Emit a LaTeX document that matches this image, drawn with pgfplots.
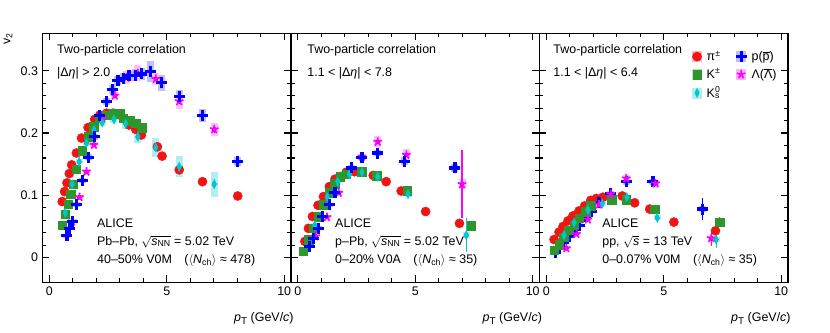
\documentclass[border=0pt]{standalone}
\usepackage{pgfplots}
\pgfplotsset{compat=1.18}
\usepackage{pgfplotstable}
\usepackage{fontspec}
\setmainfont{Liberation Sans}

\definecolor{pired}{RGB}{240,20,20}
\definecolor{kgreen}{RGB}{45,150,45}
\definecolor{kscyan}{RGB}{0,200,205}
\definecolor{pblue}{RGB}{0,0,255}
\definecolor{lmag}{RGB}{255,0,255}

% columns: pT, v2, stat. error, syst. error
% ---- Pb-Pb 40-50%
\pgfplotstableread{
x y ey es
0.55 0.090 0 0.003
0.65 0.106 0 0.003
0.75 0.120 0 0.003
0.85 0.135 0 0.003
0.95 0.149 0 0.003
1.15 0.168 0 0.003
1.37 0.192 0 0.003
1.65 0.209 0 0.003
1.93 0.222 0 0.003
2.15 0.229 0 0.003
2.44 0.232 0 0.003
2.72 0.232 0 0.003
3.00 0.229 0 0.003
3.39 0.213 0 0.004
3.68 0.206 0 0.004
3.92 0.197 0 0.004
4.60 0.178 0 0.004
4.80 0.163 0 0.004
5.53 0.141 0 0.004
6.52 0.122 0 0.004
8.02 0.099 0 0.004
}\piPbPb
\pgfplotstableread{
x y ey es
0.55 0.052 0 0.004
0.68 0.070 0 0.004
0.80 0.086 0 0.004
0.90 0.102 0 0.004
1.01 0.118 0 0.004
1.15 0.142 0 0.004
1.40 0.172 0 0.004
1.65 0.194 0 0.005
1.90 0.210 0 0.005
2.15 0.224 0 0.005
2.44 0.229 0 0.005
2.72 0.231 0 0.005
3.00 0.231 0 0.005
3.15 0.224 0 0.005
3.43 0.220 0 0.005
3.68 0.216 0 0.006
3.92 0.209 0 0.006
}\kaPbPb
\pgfplotstableread{
x y ey es
0.68 0.072 0 0.004
0.97 0.118 0 0.004
1.27 0.154 0 0.004
1.58 0.184 0 0.005
1.90 0.205 0 0.005
2.25 0.217 0 0.006
2.75 0.222 0 0.006
3.25 0.215 0 0.008
3.77 0.194 0 0.010
4.53 0.177 0.005 0.015
5.53 0.146 0.005 0.017
7.02 0.118 0.008 0.020
}\ksPbPb
\pgfplotstableread{
x y ey es
0.75 0.035 0 0.003
0.87 0.047 0 0.003
0.97 0.058 0 0.003
1.15 0.085 0 0.004
1.40 0.124 0 0.004
1.65 0.161 0 0.005
1.92 0.194 0 0.005
2.15 0.228 0 0.006
2.44 0.251 0 0.006
2.68 0.270 0 0.007
2.92 0.284 0 0.007
3.15 0.288 0 0.008
3.39 0.292 0 0.008
3.68 0.293 0 0.010
3.92 0.295 0 0.010
4.29 0.299 0.004 0.017
4.77 0.281 0.004 0.013
5.53 0.259 0.005 0.010
6.52 0.228 0.006 0.010
8.02 0.154 0.008 0.007
}\prPbPb
\pgfplotstableread{
x y ey es
0.97 0.058 0 0.003
1.28 0.097 0 0.004
1.58 0.138 0 0.005
1.90 0.181 0 0.005
2.25 0.224 0 0.006
2.79 0.260 0 0.006
3.29 0.289 0 0.010
3.77 0.296 0 0.013
4.53 0.287 0 0.010
5.53 0.251 0.004 0.012
7.02 0.206 0.006 0.010
}\laPbPb
% ---- p-Pb 0-20%
\pgfplotstableread{
x y ey es
0.30 0.026 0 0.002
0.45 0.047 0 0.002
0.62 0.066 0 0.002
0.86 0.084 0 0.002
1.09 0.098 0 0.002
1.34 0.114 0 0.003
1.58 0.126 0 0.003
1.81 0.130 0 0.003
2.06 0.137 0 0.003
2.42 0.138 0 0.003
2.73 0.138 0 0.003
3.21 0.132 0 0.003
3.76 0.122 0 0.003
4.40 0.107 0 0.003
5.44 0.074 0 0.003
6.88 0.055 0 0.003
}\pipPb
\pgfplotstableread{
x y ey es
0.23 0.010 0 0.003
0.47 0.029 0 0.003
0.66 0.047 0 0.003
0.86 0.066 0 0.003
1.09 0.085 0 0.003
1.34 0.104 0 0.003
1.58 0.119 0 0.003
1.81 0.130 0 0.003
2.06 0.134 0 0.003
2.73 0.138 0 0.004
3.35 0.132 0 0.004
4.65 0.107 0 0.005
7.38 0.051 0.006 0.005
}\kapPb
\pgfplotstableread{
x y ey es
0.72 0.052 0 0.003
1.25 0.097 0 0.003
1.70 0.122 0 0.003
2.20 0.134 0 0.003
2.73 0.137 0 0.004
3.40 0.130 0 0.004
4.69 0.102 0 0.005
7.17 0.036 0.027 0.005
}\kspPb
\pgfplotstableread{
x y ey es
0.50 0.018 0 0.003
0.66 0.031 0 0.003
0.88 0.047 0 0.003
1.05 0.066 0 0.003
1.34 0.085 0 0.003
1.58 0.104 0 0.004
2.27 0.144 0 0.004
2.73 0.161 0 0.005
3.40 0.168 0 0.005
4.55 0.155 0 0.006
6.69 0.144 0.008 0.006
}\prpPb
\pgfplotstableread{
x y ey es
0.76 0.034 0 0.003
1.24 0.065 0 0.003
1.74 0.104 0 0.004
2.73 0.162 0 0.005
3.40 0.186 0 0.009
4.62 0.165 0 0.010
6.99 0.118 0.055 0.008
}\lapPb
% ---- pp 0-0.07%
\pgfplotstableread{
x y ey es
0.33 0.029 0 0.002
0.54 0.041 0 0.002
0.71 0.050 0 0.002
0.92 0.059 0 0.002
1.13 0.067 0 0.002
1.39 0.075 0 0.002
1.63 0.083 0 0.002
1.89 0.092 0 0.002
2.13 0.095 0 0.002
2.41 0.097 0 0.002
3.23 0.099 0 0.003
3.76 0.088 0 0.003
4.40 0.078 0 0.003
5.43 0.057 0 0.003
7.20 0.043 0.006 0.003
}\pipp
\pgfplotstableread{
x y ey es
0.33 0.012 0 0.002
0.54 0.021 0 0.002
0.75 0.033 0 0.002
0.96 0.044 0 0.002
1.18 0.052 0 0.003
1.39 0.063 0 0.003
1.67 0.074 0 0.003
1.89 0.083 0 0.003
2.77 0.093 0 0.004
3.40 0.093 0 0.004
4.61 0.078 0 0.004
7.38 0.057 0.008 0.004
}\kapp
\pgfplotstableread{
x y ey es
0.75 0.036 0 0.003
1.18 0.056 0 0.003
1.77 0.077 0 0.003
2.38 0.087 0 0.004
3.43 0.097 0 0.004
4.72 0.064 0 0.004
7.23 0.029 0.014 0.004
}\kspp
\pgfplotstableread{
x y ey es
0.38 0.008 0 0.002
0.54 0.015 0 0.002
0.71 0.025 0 0.002
0.96 0.034 0 0.002
1.13 0.041 0 0.003
1.39 0.052 0 0.003
1.67 0.066 0 0.003
1.91 0.074 0 0.003
2.24 0.089 0 0.004
2.74 0.103 0 0.004
3.40 0.122 0 0.005
4.54 0.122 0 0.005
6.64 0.078 0.018 0.005
}\prpp
\pgfplotstableread{
x y ey es
0.85 0.015 0 0.002
1.28 0.038 0 0.003
1.77 0.061 0 0.003
2.24 0.085 0 0.004
2.74 0.102 0 0.004
3.40 0.127 0 0.006
4.65 0.119 0 0.005
7.02 0.031 0.013 0.004
}\lapp

\newcommand{\fs}{\fontsize{12.5}{15}\selectfont}
\newcommand{\sysbox}[2]{\addplot[forget plot, only marks, mark=none,
  error bars/.cd, y dir=both, y explicit, error mark=none,
  error bar style={line width=7bp, draw=#2}] table[x=x, y=y, y error=es] {#1};}
\newcommand{\pts}[2]{\addplot[#2, error bars/.cd, y dir=both, y explicit, error mark=none,
  error bar style={line width=1.3bp, solid}] table[x=x, y=y, y error=ey] {#1};}

\pgfplotsset{
  legbox/.style={legend image code/.code={\fill[#1] (-4.5bp,-5bp) rectangle (4.5bp,5bp);
    \draw plot coordinates {(0bp,0bp)};}},
  pi/.style={only marks, color=pired, mark=*, mark size=4.6bp, legbox=pired!30},
  ka/.style={only marks, color=kgreen, mark=square*, mark size=4.3bp, legbox=kgreen!30},
  ks/.style={only marks, color=kscyan, mark=diamond*, mark size=3.6bp,
    mark options={yscale=1.3, xscale=0.85}, legbox=kscyan!30},
  pr/.style={only marks, color=pblue, mark=+, mark size=5.5bp,
    mark options={line width=3.2bp}, legbox=pblue!25},
  la/.style={only marks, color=lmag, mark=star, mark size=4.5bp,
    mark options={line width=1.7bp}, legbox=lmag!30},
  panel/.style={scale only axis, width=248.5bp, height=249bp, anchor=south west,
    xmin=-0.3, xmax=10.28, ymin=-0.04, ymax=0.36,
    xtick={0,5,10}, minor x tick num=4, ytick={0,0.1,0.2,0.3}, minor y tick num=4,
    tick align=inside, major tick length=7bp, minor tick length=4bp,
    axis line style={line width=1.5bp}, tick style={line width=1.2bp, black},
    /pgf/number format/assume math mode=true,
    xlabel={\textit{p}\raisebox{-0.45ex}{\fontsize{10}{12}\selectfont T} (GeV/\textit{c})},
    xlabel style={at={(rel axis cs:1,0)}, anchor=north east, yshift=-30bp, xshift=3bp, inner sep=0pt},
  },
}

\begin{document}
\fs
\begin{tikzpicture}
\useasboundingbox (0,0) rectangle (830bp,333bp);
\node[rotate=90, anchor=south east, inner sep=0pt] at (12.5bp,300bp) {v\textsubscript{2}};

% Pb-Pb
\begin{axis}[panel, at={(42.3bp,50.5bp)}]
\sysbox{\piPbPb}{pired!25}
\sysbox{\kaPbPb}{kgreen!30}
\sysbox{\ksPbPb}{kscyan!30}
\sysbox{\prPbPb}{pblue!25}
\sysbox{\laPbPb}{lmag!25}
\pts{\piPbPb}{pi}
\pts{\kaPbPb}{ka}
\pts{\laPbPb}{la}
\pts{\ksPbPb}{ks}
\pts{\prPbPb}{pr}
\node[anchor=west, inner sep=0pt] at (rel axis cs:0.059,0.931) {Two-particle correlation};
\node[anchor=west, inner sep=0pt] at (rel axis cs:0.059,0.840) {|Δ\textit{η}| > 2.0};
\node[anchor=west, inner sep=0pt] at (rel axis cs:0.220,0.239) {ALICE};
\node[anchor=west, inner sep=0pt] at (rel axis cs:0.220,0.163) {Pb--Pb, $\sqrt{\mbox{\textit{s}\textsubscript{NN}}}$ = 5.02 TeV};
\node[anchor=west, inner sep=0pt] at (rel axis cs:0.220,0.090) {40--50\% V0M\quad($\langle$\textit{N}\textsubscript{ch}$\rangle$ ≈ 478)};
\end{axis}

% p-Pb
\begin{axis}[panel, at={(290.8bp,50.5bp)}, yticklabels={}]
\sysbox{\pipPb}{pired!25}
\sysbox{\kapPb}{kgreen!30}
\sysbox{\kspPb}{kscyan!30}
\sysbox{\prpPb}{pblue!25}
\sysbox{\lapPb}{lmag!25}
\pts{\pipPb}{pi}
\pts{\kapPb}{ka}
\pts{\lapPb}{la}
\pts{\kspPb}{ks}
\pts{\prpPb}{pr}
\node[anchor=west, inner sep=0pt] at (rel axis cs:0.066,0.931) {Two-particle correlation};
\node[anchor=west, inner sep=0pt] at (rel axis cs:0.066,0.840) {1.1 < |Δ\textit{η}| < 7.8};
\node[anchor=west, inner sep=0pt] at (rel axis cs:0.178,0.239) {ALICE};
\node[anchor=west, inner sep=0pt] at (rel axis cs:0.178,0.163) {p--Pb, $\sqrt{\mbox{\textit{s}\textsubscript{NN}}}$ = 5.02 TeV};
\node[anchor=west, inner sep=0pt] at (rel axis cs:0.178,0.090) {0--20\% V0A\quad($\langle$\textit{N}\textsubscript{ch}$\rangle$ ≈ 35)};
\end{axis}

% pp
\begin{axis}[panel, at={(539.3bp,50.5bp)}, yticklabels={},
  legend columns=2, legend cell align=left,
  legend style={at={(rel axis cs:0.615,0.935)}, anchor=north west, draw=none, fill=none,
    inner sep=0pt, row sep=4bp, nodes={inner sep=1bp},
    /tikz/every odd column/.append style={column sep=4bp},
    /tikz/every even column/.append style={column sep=14bp}}]
\sysbox{\pipp}{pired!25}
\sysbox{\kapp}{kgreen!30}
\sysbox{\kspp}{kscyan!30}
\sysbox{\prpp}{pblue!25}
\sysbox{\lapp}{lmag!25}
\pts{\pipp}{pi}
\pts{\prpp}{pr}
\pts{\kapp}{ka}
\pts{\lapp}{la}
\pts{\kspp}{ks}
\legend{π\textsuperscript{±}, p($\overline{\mbox{p}}$), K\textsuperscript{±}, Λ($\overline{\mbox{Λ}}$), K\rlap{\textsuperscript{0}}\textsubscript{s}}
\node[anchor=west, inner sep=0pt] at (rel axis cs:0.056,0.931) {Two-particle correlation};
\node[anchor=west, inner sep=0pt] at (rel axis cs:0.056,0.840) {1.1 < |Δ\textit{η}| < 6.4};
\node[anchor=west, inner sep=0pt] at (rel axis cs:0.253,0.239) {ALICE};
\node[anchor=west, inner sep=0pt] at (rel axis cs:0.253,0.163) {pp, $\sqrt{\mbox{\textit{s}}}$ = 13 TeV};
\node[anchor=west, inner sep=0pt] at (rel axis cs:0.253,0.090) {0--0.07\% V0M\quad($\langle$\textit{N}\textsubscript{ch}$\rangle$ ≈ 35)};
\end{axis}
\end{tikzpicture}
\end{document}
